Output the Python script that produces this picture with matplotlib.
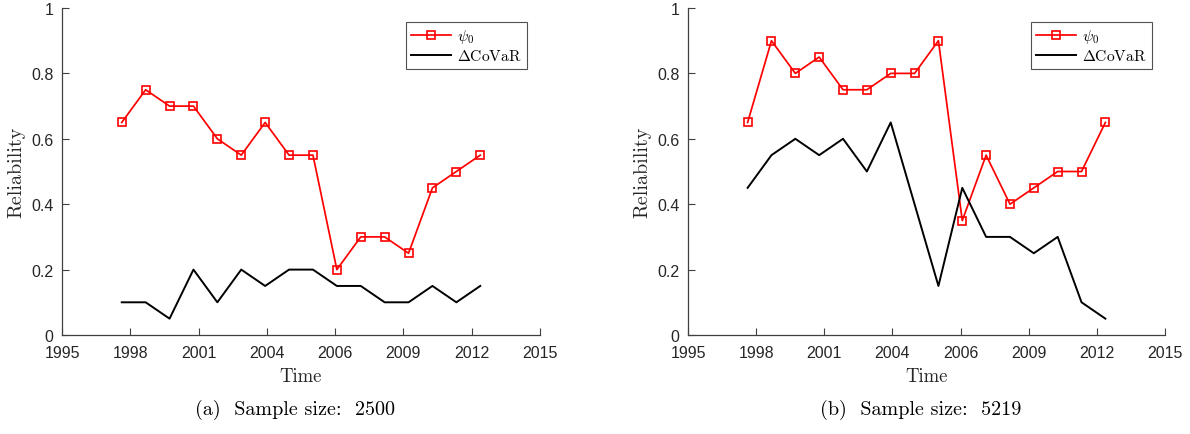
import matplotlib
matplotlib.use("Agg")
import matplotlib.pyplot as plt
import numpy as np

plt.rcParams['mathtext.fontset'] = 'cm'
plt.rcParams['font.family'] = ['Liberation Sans', 'DejaVu Sans']

years = [1997.5 + i for i in range(16)]
tick_pos = list(np.linspace(1995, 2015, 8))
tick_labels = ['1995', '1998', '2001', '2004', '2006', '2009', '2012', '2015']
ytick_pos = [0, 0.2, 0.4, 0.6, 0.8, 1.0]
ytick_labels = ['0', '0.2', '0.4', '0.6', '0.8', '1']

psi_a = [0.65, 0.75, 0.70, 0.70, 0.60, 0.55, 0.65, 0.55, 0.55, 0.20, 0.30, 0.30, 0.25, 0.45, 0.50, 0.55]
covar_a = [0.10, 0.10, 0.05, 0.20, 0.10, 0.20, 0.15, 0.20, 0.20, 0.15, 0.15, 0.10, 0.10, 0.15, 0.10, 0.15]
psi_b = [0.65, 0.90, 0.80, 0.85, 0.75, 0.75, 0.80, 0.80, 0.90, 0.35, 0.55, 0.40, 0.45, 0.50, 0.50, 0.65]
covar_b = [0.45, 0.55, 0.60, 0.55, 0.60, 0.50, 0.65, 0.40, 0.15, 0.45, 0.30, 0.30, 0.25, 0.30, 0.10, 0.05]
captions = ['(a)  Sample size:  2500', '(b)  Sample size:  5219']

W, H = 1190, 435
fig = plt.figure(figsize=(W / 100, H / 100), dpi=100)

axes_px = [(62, 540), (688, 1165)]
top_px, bot_px = 9, 336
axc = '#404040'

for k, (psi, covar) in enumerate([(psi_a, covar_a), (psi_b, covar_b)]):
    x0, x1 = axes_px[k]
    ax = fig.add_axes([x0 / W, 1 - bot_px / H, (x1 - x0) / W, (bot_px - top_px) / H])
    ax.plot(years, psi, color='red', lw=1.25, marker='s', ms=5.3, mfc='none',
            mec='red', mew=1.2, label=r'$\psi_0$')
    ax.plot(years, covar, color='black', lw=1.4, label=r'$\Delta\mathrm{CoVaR}$')
    ax.set_xlim(1995, 2015)
    ax.set_ylim(0, 1)
    ax.set_xticks(tick_pos)
    ax.set_xticklabels(tick_labels)
    ax.set_yticks(ytick_pos)
    ax.set_yticklabels(ytick_labels)
    for s in ['top', 'right']:
        ax.spines[s].set_visible(False)
    for s in ['left', 'bottom']:
        ax.spines[s].set_color(axc)
        ax.spines[s].set_linewidth(0.9)
    ax.tick_params(direction='in', length=5, width=0.8, color=axc,
                   labelcolor='#262626', labelsize=11.5)
    ax.tick_params(axis='x', pad=7)
    ax.tick_params(axis='y', pad=6)
    ax.set_xlabel('Time', family='cmr10', fontsize=13.5, color='#262626', labelpad=5)
    ax.set_ylabel('Reliability', family='cmr10', fontsize=14.5, color='#262626', labelpad=4)
    leg = ax.legend(loc='upper right', bbox_to_anchor=(0.973, 0.958), fontsize=11.2,
                    frameon=True, fancybox=False, edgecolor='#262626',
                    handlelength=2.6, borderpad=0.35, labelspacing=0.2,
                    handletextpad=0.35, borderaxespad=0)
    leg.get_frame().set_linewidth(0.8)
    fig.text((x0 + x1) / 2 / W - 0.005, 1 - 410 / H, captions[k], ha='center',
             va='center', fontsize=14.5, family='cmr10')

fig.savefig('out.png', dpi=100)
